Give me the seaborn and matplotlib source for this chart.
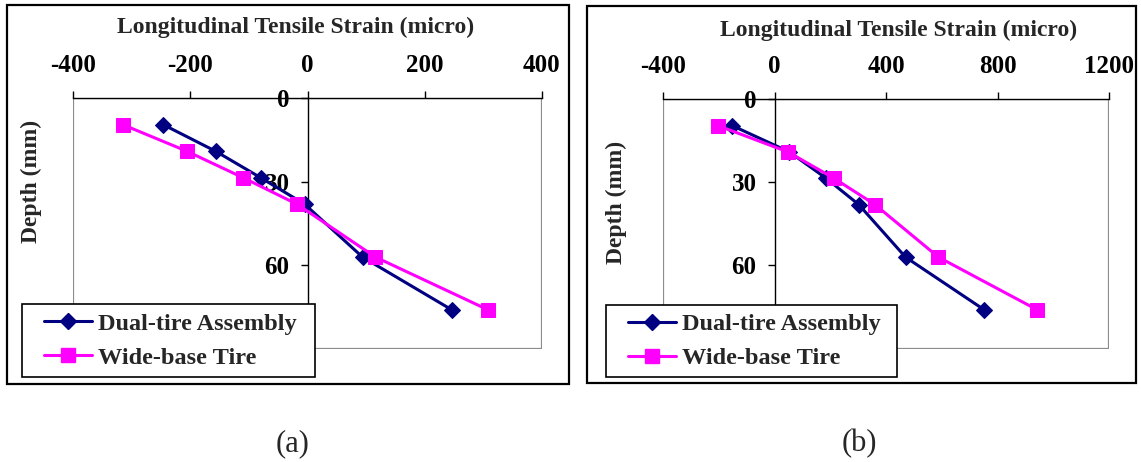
import matplotlib
matplotlib.use("Agg")
import matplotlib.pyplot as plt
from matplotlib.patches import Rectangle
from matplotlib.lines import Line2D
from matplotlib.legend_handler import HandlerLine2D
import seaborn as sns
import pandas as pd

# Depths of the strain gauges (mm)
depth_mm = [9.5, 19, 28.5, 38, 57, 76]
series_names = ["Dual-tire Assembly", "Wide-base Tire"]

# Longitudinal tensile strain (micro-strain), panel (a)
strain_a_dual = [-246, -157, -80, -5, 94, 247]
strain_a_wide = [-315, -206, -110, -18, 116, 309]
# Longitudinal tensile strain (micro-strain), panel (b)
strain_b_dual = [-152, 53, 185, 302, 470, 752]
strain_b_wide = [-203, 48, 213, 360, 588, 942]

xticks_a = [-400, -200, 0, 200, 400]
xticks_b = [-400, 0, 400, 800, 1200]
yticks = [0, 30, 60]
depth_max = 90
panel_labels = ["(a)", "(b)"]
x_title = "Longitudinal Tensile Strain (micro)"
y_title = "Depth (mm)"

sns.set_style("white")
plt.rcParams["font.family"] = ["Liberation Serif", "DejaVu Serif"]
plt.rcParams["font.weight"] = "bold"
plt.rcParams["axes.unicode_minus"] = False

W, H = 1141, 462
NAVY = "#000080"
MAGENTA = "#FF00FF"
GRAY = "#8c8c8c"
FS = 17
TICK_FS = 18
LEG_FS = 17.5
LW = 2.2


def fx(px):
    return px / W


def fy(py):
    return 1 - py / H


styles = {
    "Dual-tire Assembly": dict(color=NAVY, marker="D", markersize=7.8),
    "Wide-base Tire": dict(color=MAGENTA, marker="s", markersize=9.8),
}

panels = [
    dict(dual=strain_a_dual, wide=strain_a_wide, xticks=xticks_a,
         box=(7, 5, 569, 384), plot=(73.3, 98.3, 541.7, 349),
         title_xy=(295.5, 27), ylab_xy=(31.7, 181.5),
         legend_box=(22.3, 304.3, 315, 374.3), label_xy=(292.5, 444),
         label=panel_labels[0]),
    dict(dual=strain_b_dual, wide=strain_b_wide, xticks=xticks_b,
         box=(587, 6, 1136, 383), plot=(663, 99.3, 1109, 348.5),
         title_xy=(899, 30), ylab_xy=(616.5, 202.5),
         legend_box=(606.3, 305, 896.5, 376.5), label_xy=(859, 444),
         label=panel_labels[1]),
]

fig = plt.figure(figsize=(W / 100, H / 100), dpi=100)
fig.patch.set_facecolor("white")

for p in panels:
    # outer chart border
    x0, y0, x1, y1 = p["box"]
    fig.add_artist(Rectangle((fx(x0), fy(y1)), fx(x1) - fx(x0), fy(y0) - fy(y1),
                             transform=fig.transFigure, fill=False,
                             edgecolor="black", linewidth=1.6))

    l, t, r, b = p["plot"]
    ax = fig.add_axes([fx(l), fy(b), fx(r) - fx(l), fy(t) - fy(b)])
    ax.set_facecolor("white")

    df = pd.DataFrame({
        "strain": list(p["dual"]) + list(p["wide"]),
        "depth": depth_mm + depth_mm,
        "series": [series_names[0]] * len(depth_mm) + [series_names[1]] * len(depth_mm),
    })
    for name in series_names:
        st = styles[name]
        sns.lineplot(data=df[df["series"] == name], x="strain", y="depth",
                     sort=False, estimator=None, ax=ax, color=st["color"],
                     marker=st["marker"], markersize=st["markersize"],
                     markeredgecolor=st["color"], linewidth=LW, legend=False,
                     zorder=3)

    ticks = p["xticks"]
    ax.set_xlim(ticks[0], ticks[-1])
    ax.set_ylim(depth_max, 0)
    ax.set_xticks(ticks)
    ax.set_yticks(yticks)
    ax.grid(False)

    # plot-area frame in gray, axis lines in black
    ax.add_patch(Rectangle((0, 0), 1, 1, transform=ax.transAxes, fill=False,
                           edgecolor=GRAY, linewidth=1.6, zorder=1))
    for s in ("right", "bottom"):
        ax.spines[s].set_visible(False)
    ax.spines["top"].set_color("black")
    ax.spines["top"].set_linewidth(1.0)
    ax.spines["left"].set_position(("data", 0))
    ax.spines["left"].set_color("black")
    ax.spines["left"].set_linewidth(1.0)

    ax.xaxis.tick_top()
    ax.tick_params(axis="x", direction="out", length=5, width=1, pad=10,
                   labelsize=TICK_FS, colors="black", top=True, bottom=False)
    ax.tick_params(axis="y", direction="out", length=5, width=1, pad=8,
                   labelsize=TICK_FS, colors="black", left=True, right=False)

    ax.set_xlabel(x_title, fontsize=FS, fontweight="bold")
    ax.xaxis.set_label_position("top")
    ax.xaxis.set_label_coords(fx(p["title_xy"][0]), fy(p["title_xy"][1]),
                              transform=fig.transFigure)
    ax.xaxis.label.set_va("center")

    ax.set_ylabel(y_title, fontsize=FS, fontweight="bold")
    ax.yaxis.set_label_coords(fx(p["ylab_xy"][0]), fy(p["ylab_xy"][1]),
                              transform=fig.transFigure)
    ax.yaxis.label.set_va("center")

    handles = [Line2D([], [], color=styles[n]["color"], marker=styles[n]["marker"],
                      markersize=styles[n]["markersize"],
                      markeredgecolor=styles[n]["color"], linewidth=LW)
               for n in series_names]
    lx0, ly0, lx1, ly1 = p["legend_box"]
    leg = ax.legend(handles, series_names, loc="upper left",
                    bbox_to_anchor=(fx(lx0), fy(ly1), fx(lx1) - fx(lx0), fy(ly0) - fy(ly1)),
                    bbox_transform=fig.transFigure, mode="expand",
                    frameon=True, fancybox=False, framealpha=1,
                    edgecolor="black", fontsize=LEG_FS,
                    handlelength=2.54, handletextpad=0.25, borderpad=0.34,
                    labelspacing=0.49, borderaxespad=0,
                    handler_map={Line2D: HandlerLine2D(xpad=0.57)})
    leg.get_frame().set_linewidth(1.2)
    leg.set_zorder(10)

    fig.text(fx(p["label_xy"][0]), fy(p["label_xy"][1]), p["label"],
             ha="center", va="center", fontsize=22, fontweight="normal")

fig.savefig("out.png", dpi=100, facecolor="white")
